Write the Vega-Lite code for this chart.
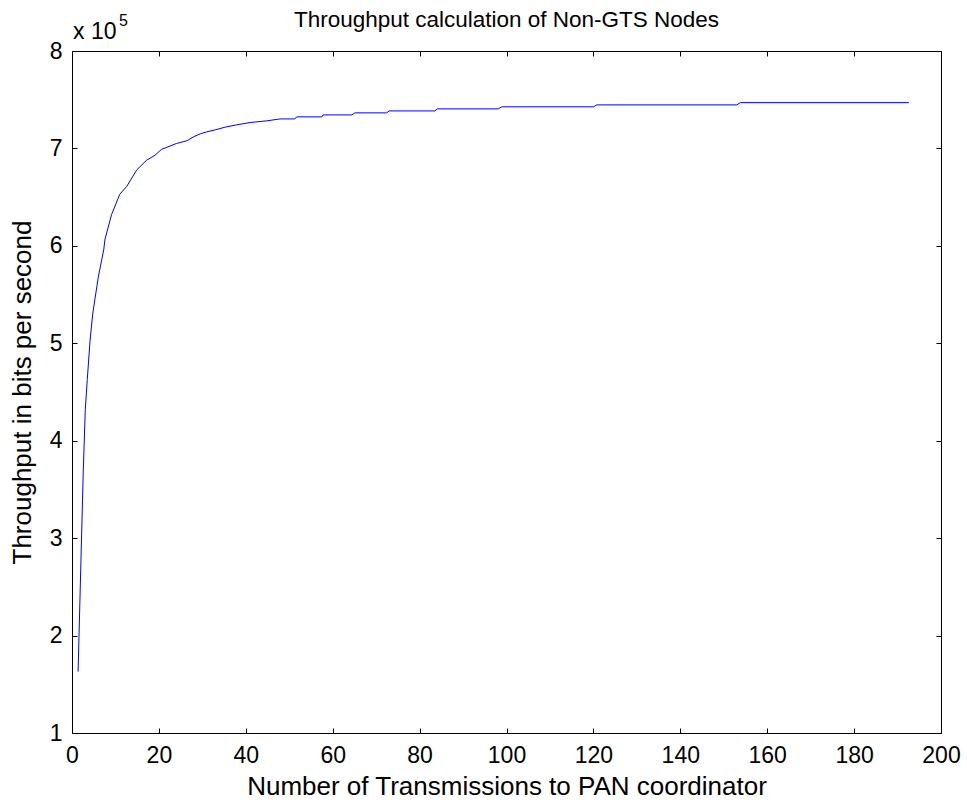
{
  "$schema": "https://vega.github.io/schema/vega-lite/v6.json",
  "width": 869,
  "height": 682,
  "autosize": {"type": "none"},
  "padding": {"left": 72, "top": 51, "right": 26, "bottom": 70},
  "background": "white",
  "title": {
    "text": "Throughput calculation of Non-GTS Nodes",
    "font": "Liberation Sans",
    "fontSize": 22.5,
    "fontWeight": "normal",
    "color": "black",
    "anchor": "middle",
    "offset": -18
  },
  "config": {
    "view": {"stroke": "black", "strokeWidth": 1},
    "font": "Liberation Sans",
    "axis": {
      "labelFont": "Liberation Sans",
      "titleFont": "Liberation Sans",
      "labelColor": "black",
      "titleColor": "black",
      "labelFontSize": 23,
      "titleFontSize": 26,
      "titleFontWeight": "normal",
      "domainColor": "black",
      "tickColor": "black",
      "grid": false,
      "tickSize": -5
    }
  },
  "data": {
    "values": [
      {"n": 1.4, "throughput": 163000},
      {"n": 2.6, "throughput": 370000},
      {"n": 3.06, "throughput": 432000},
      {"n": 3.52, "throughput": 463000},
      {"n": 4.14, "throughput": 502000},
      {"n": 4.76, "throughput": 530000},
      {"n": 6.05, "throughput": 568000},
      {"n": 7.3, "throughput": 596000},
      {"n": 7.6, "throughput": 607000},
      {"n": 9.1, "throughput": 632000},
      {"n": 11.0, "throughput": 653000},
      {"n": 12.6, "throughput": 661000},
      {"n": 14.9, "throughput": 678000},
      {"n": 17.2, "throughput": 688000},
      {"n": 19.1, "throughput": 693000},
      {"n": 20.6, "throughput": 699000},
      {"n": 24.0, "throughput": 705000},
      {"n": 26.5, "throughput": 708000},
      {"n": 28.0, "throughput": 712000},
      {"n": 29.5, "throughput": 715000},
      {"n": 31.0, "throughput": 717000},
      {"n": 32.9, "throughput": 719000},
      {"n": 35.2, "throughput": 721800},
      {"n": 37.9, "throughput": 724200},
      {"n": 41.0, "throughput": 726600},
      {"n": 44.8, "throughput": 728300},
      {"n": 47.9, "throughput": 730300},
      {"n": 51.3, "throughput": 730300},
      {"n": 51.7, "throughput": 732400},
      {"n": 57.5, "throughput": 732400},
      {"n": 57.8, "throughput": 734400},
      {"n": 64.4, "throughput": 734400},
      {"n": 65.1, "throughput": 736500},
      {"n": 72.4, "throughput": 736500},
      {"n": 73.0, "throughput": 738500},
      {"n": 83.5, "throughput": 738500},
      {"n": 84.1, "throughput": 740600},
      {"n": 98.1, "throughput": 740600},
      {"n": 98.9, "throughput": 742700},
      {"n": 120.0, "throughput": 742700},
      {"n": 120.8, "throughput": 744700},
      {"n": 153.0, "throughput": 744700},
      {"n": 153.8, "throughput": 747000},
      {"n": 192.6, "throughput": 747000}
    ]
  },
  "resolve": {"axis": {"x": "independent", "y": "independent"}},
  "layer": [
    {
      "mark": {"type": "line", "color": "#0000FF", "strokeWidth": 1},
      "encoding": {
        "x": {
          "field": "n",
          "type": "quantitative",
          "scale": {"domain": [0, 200], "nice": false, "zero": false},
          "axis": {
            "orient": "bottom",
            "title": "Number of Transmissions to PAN coordinator",
            "values": [0, 20, 40, 60, 80, 100, 120, 140, 160, 180, 200],
            "labelPadding": 16,
            "titlePadding": 6,
            "labelFlush": false,
            "labelOverlap": false,
            "domain": false
          }
        },
        "y": {
          "field": "throughput",
          "type": "quantitative",
          "scale": {"domain": [100000, 800000], "nice": false, "zero": false},
          "axis": {
            "orient": "left",
            "title": "Throughput in bits per second",
            "values": [100000, 200000, 300000, 400000, 500000, 600000, 700000, 800000],
            "labelExpr": "format(datum.value / 100000, 'd')",
            "labelPadding": 15,
            "titlePadding": 14,
            "labelFlush": false,
            "labelOverlap": false,
            "domain": false
          }
        }
      }
    },
    {
      "mark": {"type": "line", "strokeOpacity": 0},
      "encoding": {
        "x": {
          "field": "n",
          "type": "quantitative",
          "axis": {
            "orient": "top",
            "title": null,
            "labels": false,
            "domain": false,
            "values": [0, 20, 40, 60, 80, 100, 120, 140, 160, 180, 200]
          }
        },
        "y": {
          "field": "throughput",
          "type": "quantitative",
          "axis": {
            "orient": "right",
            "title": null,
            "labels": false,
            "domain": false,
            "values": [100000, 200000, 300000, 400000, 500000, 600000, 700000, 800000]
          }
        }
      }
    },
    {
      "data": {"values": [{"n": 0, "throughput": 800000, "label": "x 10"}]},
      "mark": {"type": "text", "align": "left", "baseline": "alphabetic", "dx": 1, "dy": -12, "fontSize": 23, "font": "Liberation Sans", "color": "black"},
      "encoding": {
        "x": {"field": "n", "type": "quantitative", "axis": null},
        "y": {"field": "throughput", "type": "quantitative", "axis": null},
        "text": {"field": "label"}
      }
    },
    {
      "data": {"values": [{"n": 0, "throughput": 800000, "label": "5"}]},
      "mark": {"type": "text", "align": "left", "baseline": "alphabetic", "dx": 47, "dy": -25, "fontSize": 16, "font": "Liberation Sans", "color": "black"},
      "encoding": {
        "x": {"field": "n", "type": "quantitative", "axis": null},
        "y": {"field": "throughput", "type": "quantitative", "axis": null},
        "text": {"field": "label"}
      }
    }
  ]
}
